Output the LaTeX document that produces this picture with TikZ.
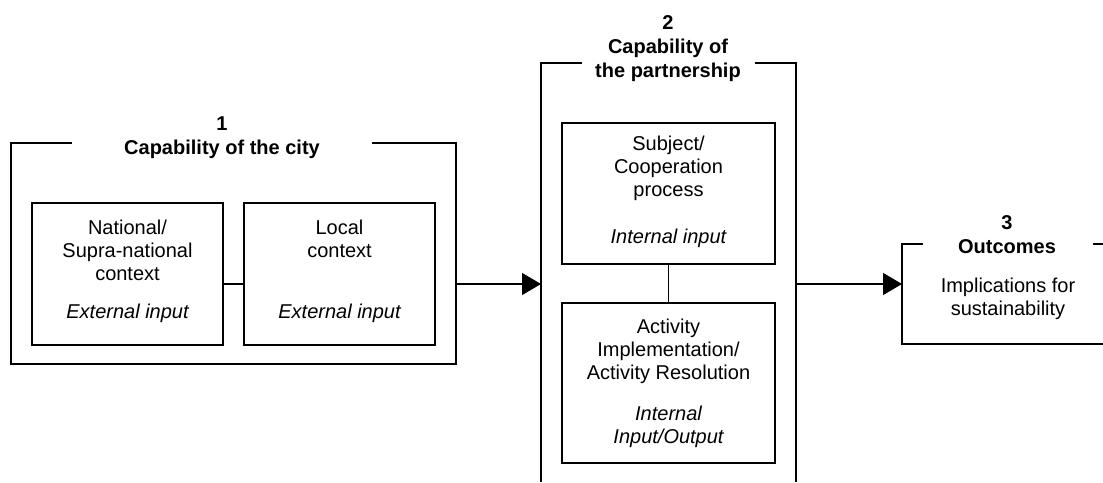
\documentclass[tikz,border=0pt]{standalone}
\usepackage{fontspec}
\setmainfont{Liberation Sans}
\usetikzlibrary{arrows.meta}

\tikzset{
	box/.style={draw, line width=0.65pt, inner sep=0pt},
	txt/.style={align=center, inner sep=0pt, font=\fontsize{10}{11.5}\selectfont},
	frame/.style={line width=0.65pt},
	flow/.style={line width=0.65pt, -{Triangle[length=9.5pt,width=11pt]}}
}

\begin{document}
\begin{tikzpicture}[x=0.5pt,y=-0.5pt]
\useasboundingbox (0,0) rectangle (1103,482);

% 1 - capability of the city
\draw[frame] (72,143) -- (11,143) -- (11,364) -- (456,364) -- (456,143) -- (372,143);
\node[txt, font=\fontsize{10}{12}\selectfont\bfseries] (cityT) at (222,138) {1\\Capability of the city};

\node[box, minimum width=95.5pt, minimum height=71pt] (nat) at (127.5,274) {};
\node[box, minimum width=95.5pt, minimum height=71pt] (loc) at (339.5,274) {};
\node[txt] (natA) at (127.5,250) {National/\\Supra-national\\context};
\node[txt] (natB) at (127.5,313) {\itshape External input};
\node[txt] (locA) at (339.5,238.5) {Local\\context};
\node[txt] (locB) at (339.5,313) {\itshape External input};
\draw[frame] (nat.east |- 0,284) -- (loc.west |- 0,284);

% 2 - capability of the partnership
\draw[frame] (582,63) -- (541,63) -- (541,482);
\draw[frame] (755,63) -- (796,63) -- (796,482);
\node[txt, font=\fontsize{10}{12}\selectfont\bfseries] (partT) at (668,48.5) {2\\Capability of\\the partnership};

\node[box, minimum width=106.5pt, minimum height=70.5pt] (subj) at (668.5,193.5) {};
\node[box, minimum width=106.5pt, minimum height=80pt] (act) at (668.5,383) {};
\node[txt] (subjA) at (668.5,168) {Subject/\\Cooperation\\process};
\node[txt] (subjB) at (668.5,238) {\itshape Internal input};
\node[txt] (actA) at (668.5,351) {Activity\\Implementation/\\Activity Resolution};
\node[txt] (actB) at (668.5,426.5) {\itshape Internal\\\itshape Input/Output};
\draw[frame] (subj) -- (act);

% 3 - outcomes
\draw[frame] (923,244) -- (902,244) -- (902,344) -- (1103,344);
\draw[frame] (1093,244) -- (1103,244);
\node[txt, font=\fontsize{10}{12}\selectfont\bfseries] (outT) at (1007,234.5) {3\\Outcomes};
\node[txt] (outA) at (1008,299) {Implications for\\sustainability};

% flow between stages
\coordinate (cityE) at (456,284);
\coordinate (partW) at (541,284);
\coordinate (partE) at (796,284);
\coordinate (outW) at (902,284);
\draw[flow] (cityE) -- (partW);
\draw[flow] (partE) -- (outW);
\end{tikzpicture}
\end{document}
